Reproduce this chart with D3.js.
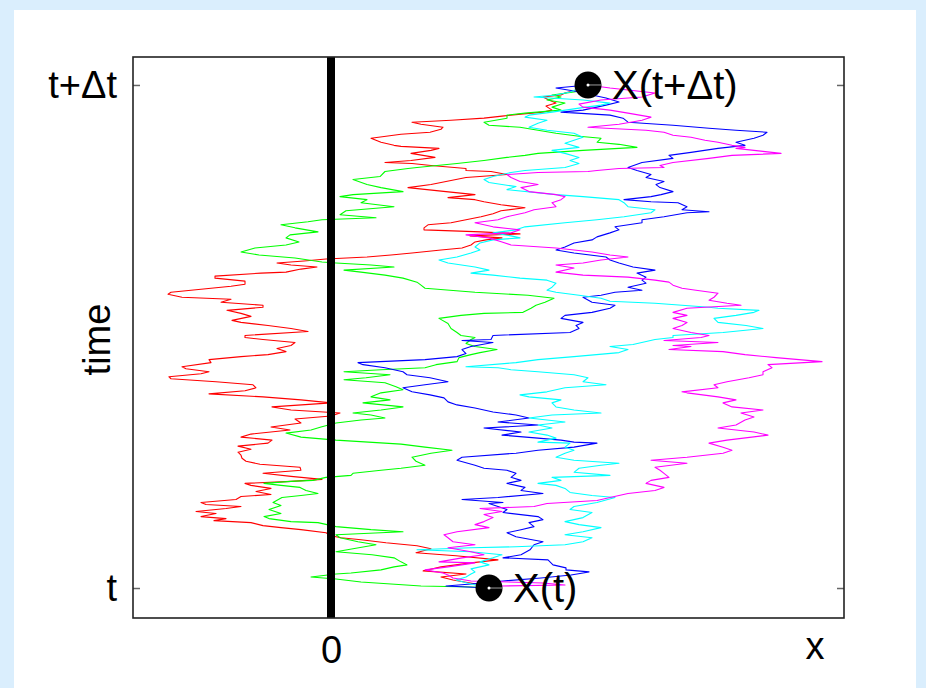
<!DOCTYPE html>
<html><head><meta charset="utf-8">
<script src="https://cdn.jsdelivr.net/npm/d3@7"></script>
<style>
html,body{margin:0;padding:0;background:#daeefd;}
svg{display:block;}
text{font-family:"Liberation Sans",Arial,sans-serif;fill:#000;}
</style></head>
<body><svg id="c" width="926" height="688"></svg>
<script>
// time in steps (0 = t, 500 = t+Δt), x in space units
const timeTicks = [0, 500];
const timeTickLabels = ["t", "t+\u0394t"];
const xTicks = [0];
const xTickLabels = ["0"];
const startPoint = [0, 1.58];   // X(t)
const endPoint = [500, 2.57];   // X(t+Δt)
const pointLabels = ["X(t)", "X(t+\u0394t)"];

const red = [[0,1.58],[4,1.45],[8,1.22],[11,1.10],[14,1.35],[17,0.92],[21,1.10],[25,1.40],[28,1.67],[32,1.25],[35,0.85],[39,1.00],[42,0.86],[45,0.55],[48,0.30],[50,0.10],[52,0.00],[55,-0.05],[58,-0.30],[60,-0.50],[62,-0.68],[65,-0.80],[67,-1.17],[69,-1.05],[71,-1.30],[74,-1.15],[76,-1.35],[79,-1.05],[81,-0.90],[83,-1.25],[85,-1.30],[88,-0.95],[91,-0.90],[93,-0.60],[96,-0.75],[99,-0.60],[102,-0.80],[104,-0.86],[106,-0.40],[108,-0.09],[111,-0.40],[114,-0.68],[117,-0.30],[120,-0.31],[123,-0.71],[126,-0.85],[129,-0.89],[132,-0.90],[135,-0.93],[138,-0.80],[141,-0.93],[144,-0.63],[147,-0.59],[150,-0.90],[153,-0.80],[157,-0.41],[160,-0.60],[164,-0.30],[168,-0.36],[171,0.00],[174,0.09],[177,-0.40],[180,-0.59],[184,0.00],[187,-0.30],[190,-0.68],[193,-1.22],[196,-0.86],[199,-0.75],[202,-0.78],[205,-1.15],[208,-1.60],[210,-1.62],[213,-1.30],[215,-1.22],[218,-1.45],[220,-1.49],[224,-1.20],[227,-1.22],[230,-0.90],[232,-0.63],[235,-0.45],[238,-0.54],[241,-0.40],[244,-0.36],[247,-0.68],[249,-0.86],[251,-0.86],[255,-0.23],[258,-0.40],[261,-0.63],[264,-0.90],[266,-0.99],[270,-0.80],[273,-0.90],[276,-1.04],[279,-0.68],[281,-0.68],[284,-1.10],[287,-1.00],[289,-1.49],[292,-1.63],[294,-1.60],[297,-1.30],[300,-1.00],[302,-0.86],[305,-0.86],[308,-1.16],[310,-1.16],[313,-0.70],[314,-0.45],[317,-0.30],[319,-0.14],[321,-0.40],[323,-0.54],[325,-0.27],[327,-0.05],[329,0.36],[331,0.60],[333,0.81],[336,1.10],[338,1.31],[341,1.40],[344,1.44],[346,1.55],[348,1.71],[350,1.39],[352,1.89],[354,1.50],[356,0.93],[358,0.93],[361,0.97],[363,1.20],[366,1.35],[369,1.50],[372,1.62],[375,1.70],[378,1.94],[381,1.70],[384,1.53],[386,1.44],[388,1.17],[391,1.44],[394,1.15],[398,0.77],[401,1.00],[405,1.20],[408,1.35],[411,1.76],[414,1.60],[415,1.35],[417,1.35],[420,1.00],[422,0.81],[423,0.54],[425,0.80],[428,1.04],[432,0.80],[435,1.00],[437,1.08],[439,0.70],[440,0.63],[443,0.50],[445,0.45],[447,0.40],[449,0.55],[451,0.70],[453,0.99],[456,1.10],[458,1.12],[461,0.90],[463,0.81],[465,1.20],[467,1.53],[469,1.71],[471,1.90],[473,2.12],[475,2.21],[479,2.15],[482,2.25],[485,2.18],[488,2.12],[490,2.30],[492,2.34],[495,2.45],[497,2.57],[500,2.57]];

const green = [[0,1.58],[1,1.40],[2,0.90],[4,0.60],[6,0.30],[9,0.05],[11,-0.20],[14,0.05],[15,0.20],[18,0.50],[21,0.63],[23,0.76],[26,0.70],[30,0.63],[33,0.41],[36,0.05],[39,0.22],[43,0.45],[46,0.27],[50,0.09],[53,0.05],[56,0.72],[58,0.40],[61,0.05],[65,-0.13],[66,-0.40],[69,-0.62],[71,-0.67],[74,-0.50],[78,-0.62],[82,-0.50],[85,-0.58],[90,-0.49],[92,-0.30],[94,-0.13],[97,-0.25],[100,-0.31],[102,-0.50],[104,-0.67],[106,-0.40],[107,-0.18],[110,-0.05],[112,0.20],[114,0.22],[117,0.50],[119,0.70],[122,0.94],[126,0.85],[130,0.81],[134,1.00],[137,1.21],[140,0.94],[143,0.70],[147,0.05],[150,-0.30],[154,-0.45],[157,-0.20],[160,-0.10],[164,0.05],[167,0.30],[169,0.54],[172,0.40],[174,0.22],[177,0.50],[180,0.72],[184,0.32],[187,0.59],[190,0.40],[194,0.50],[197,0.72],[200,0.65],[204,0.54],[207,0.13],[209,0.35],[212,0.59],[215,0.13],[217,0.50],[219,0.94],[222,1.05],[225,1.26],[229,1.28],[232,1.40],[234,1.49],[237,1.66],[240,1.44],[243,1.35],[247,1.40],[249,1.44],[251,1.30],[254,1.26],[258,1.20],[263,1.17],[268,1.08],[271,1.30],[273,1.53],[274,1.92],[278,2.00],[281,2.05],[284,2.14],[288,2.23],[291,1.97],[294,1.44],[298,0.94],[301,0.90],[304,0.86],[308,0.72],[311,0.54],[314,0.30],[316,0.13],[319,0.63],[321,0.40],[323,0.05],[324,-0.09],[328,-0.36],[331,-0.72],[334,-0.90],[338,-0.76],[341,-0.45],[344,-0.32],[348,-0.45],[351,-0.41],[354,-0.13],[358,-0.36],[361,-0.50],[364,-0.23],[366,-0.09],[368,0.45],[371,0.09],[375,0.15],[379,0.63],[383,0.30],[386,0.36],[389,0.09],[391,0.22],[394,0.72],[398,0.50],[401,0.36],[406,0.22],[409,0.49],[414,0.54],[417,0.77],[418,0.86],[422,1.26],[425,1.53],[428,1.76],[430,1.94],[432,2.07],[435,2.52],[438,3.06],[441,2.88],[443,2.66],[447,2.70],[449,2.48],[452,2.25],[455,2.07],[458,1.89],[460,1.58],[463,1.53],[467,1.76],[470,1.76],[472,1.94],[475,2.30],[478,2.21],[482,2.34],[485,2.16],[488,2.30],[490,2.21],[493,2.43],[497,2.65],[500,2.57]];

const blue = [[0,1.58],[2,1.15],[4,1.40],[7,1.72],[10,2.10],[13,2.40],[16,2.58],[18,2.35],[20,2.35],[23,2.22],[28,2.17],[30,1.72],[33,1.90],[38,1.99],[43,2.03],[46,2.12],[51,1.85],[55,1.76],[58,1.90],[61,2.03],[65,1.98],[68,2.12],[71,2.07],[75,1.72],[78,1.76],[81,1.67],[84,1.58],[85,1.72],[88,1.31],[90,1.67],[94,2.12],[97,1.90],[100,1.94],[104,1.76],[107,1.90],[110,1.80],[114,1.85],[117,1.76],[119,1.53],[122,1.44],[127,1.26],[130,1.31],[134,1.85],[137,2.07],[140,2.43],[144,2.66],[145,2.43],[147,2.30],[149,2.07],[152,1.71],[155,1.90],[159,1.53],[162,2.07],[165,1.67],[169,1.98],[172,1.85],[175,1.62],[179,1.44],[182,1.26],[185,1.17],[189,1.13],[192,0.99],[195,0.81],[199,0.72],[202,0.94],[205,1.17],[209,0.99],[212,0.76],[215,0.72],[219,0.54],[222,0.32],[224,0.27],[227,0.94],[230,1.26],[233,1.35],[237,1.31],[240,1.40],[244,1.62],[246,1.31],[247,1.60],[251,1.62],[254,2.39],[258,2.48],[261,2.45],[264,2.52],[268,2.30],[271,2.34],[274,2.61],[278,2.79],[281,2.84],[284,2.61],[289,2.52],[291,2.70],[294,2.84],[296,3.11],[299,2.97],[303,3.15],[306,3.11],[309,3.15],[313,3.06],[316,3.24],[319,3.02],[323,2.88],[326,2.79],[329,2.75],[333,2.43],[336,2.25],[339,2.34],[343,2.43],[346,2.61],[349,2.66],[353,2.79],[356,2.88],[359,2.84],[363,3.11],[366,3.11],[369,3.33],[373,3.56],[374,3.78],[376,3.51],[379,3.56],[383,3.47],[384,3.20],[386,2.93],[389,3.20],[391,3.30],[394,3.42],[398,3.29],[401,3.25],[404,3.33],[408,3.15],[411,3.20],[415,3.06],[418,2.97],[423,3.11],[427,3.42],[430,3.38],[433,3.60],[437,3.87],[440,4.14],[443,4.05],[447,4.23],[450,4.32],[453,4.36],[455,4.05],[457,3.78],[460,3.42],[463,2.97],[467,2.92],[470,2.79],[473,2.30],[475,2.52],[480,2.75],[483,2.88],[487,2.75],[490,2.61],[494,2.43],[497,2.25],[500,2.57]];

const cyan = [[0,1.58],[4,1.40],[8,1.25],[11,1.35],[14,1.40],[16,1.44],[19,1.40],[23,1.58],[26,1.49],[30,1.62],[33,1.71],[36,1.40],[38,0.86],[40,1.40],[41,1.85],[43,2.34],[46,2.52],[50,2.61],[53,2.34],[56,2.52],[60,2.70],[63,2.48],[66,2.34],[70,2.52],[75,2.61],[78,2.39],[81,2.43],[85,2.66],[90,2.84],[92,2.61],[95,2.39],[99,2.34],[102,2.25],[104,2.07],[107,2.30],[110,2.21],[112,2.79],[115,2.43],[119,2.48],[122,2.70],[124,2.88],[127,2.43],[130,2.25],[134,2.34],[137,2.43],[140,2.34],[144,2.39],[145,2.07],[149,2.25],[152,2.16],[155,1.98],[159,2.21],[162,2.07],[165,2.34],[169,1.98],[172,2.21],[174,2.70],[177,2.43],[180,2.25],[184,2.21],[187,2.30],[190,1.98],[192,1.89],[195,2.16],[199,2.34],[202,2.75],[205,2.52],[209,2.57],[212,2.43],[215,2.07],[217,1.80],[219,1.67],[220,1.35],[224,1.85],[227,2.07],[230,2.43],[234,2.88],[237,2.97],[240,2.79],[242,3.02],[247,3.24],[249,3.42],[251,3.42],[254,3.92],[258,4.32],[261,4.15],[264,3.87],[268,3.83],[271,4.05],[274,4.23],[276,4.28],[278,3.87],[279,3.78],[283,3.24],[285,2.79],[288,2.70],[291,2.48],[294,2.25],[296,2.16],[299,2.21],[303,2.25],[306,2.16],[308,1.89],[311,1.62],[313,1.40],[316,1.58],[319,1.44],[323,1.17],[326,1.08],[329,1.26],[333,1.40],[336,1.49],[339,1.44],[343,1.49],[346,1.62],[348,1.89],[350,1.80],[353,1.62],[356,1.85],[359,1.94],[363,2.34],[366,2.66],[369,2.93],[373,3.20],[376,3.24],[379,2.97],[383,2.93],[386,2.88],[389,2.52],[391,2.25],[396,1.76],[399,1.85],[403,1.58],[406,1.53],[409,1.62],[413,1.80],[415,1.94],[418,2.34],[422,2.48],[425,2.39],[428,2.48],[432,2.34],[435,2.21],[438,2.48],[442,2.34],[445,2.43],[448,2.52],[452,2.43],[455,2.16],[458,1.98],[462,2.07],[465,2.16],[468,1.94],[470,1.98],[473,2.21],[477,2.48],[480,2.70],[482,2.79],[485,2.52],[488,2.03],[490,2.25],[493,2.39],[500,2.57]];

const magenta = [[0,1.58],[2,1.71],[3,2.34],[5,2.12],[7,1.40],[10,1.22],[13,1.17],[15,1.12],[18,0.94],[21,1.17],[25,1.44],[26,1.08],[30,1.31],[33,1.53],[36,1.40],[40,1.17],[43,1.44],[46,1.22],[50,1.17],[53,1.13],[56,1.26],[60,1.58],[63,1.44],[66,1.53],[70,1.62],[73,1.53],[76,1.71],[79,1.49],[81,2.03],[84,2.16],[87,2.66],[90,2.79],[94,2.97],[97,3.24],[100,3.33],[104,3.15],[107,3.20],[110,3.38],[114,3.33],[117,3.29],[120,3.24],[124,3.56],[127,3.20],[130,3.56],[134,3.92],[137,4.01],[140,3.92],[144,3.78],[147,3.96],[152,4.37],[155,4.23],[159,3.87],[162,4.05],[167,4.14],[170,4.23],[174,4.10],[177,4.32],[180,4.01],[184,3.92],[187,4.05],[190,3.87],[194,3.56],[195,3.51],[199,3.87],[202,3.83],[205,3.96],[209,4.18],[212,4.32],[215,4.32],[219,4.41],[222,4.37],[225,4.91],[229,4.45],[232,4.14],[235,3.92],[237,3.38],[240,3.60],[241,3.42],[244,3.87],[246,3.33],[249,3.70],[251,3.78],[254,3.60],[258,3.42],[261,3.51],[264,3.56],[268,3.42],[271,3.56],[274,3.42],[278,3.56],[281,4.10],[283,3.96],[286,3.78],[289,3.83],[293,3.87],[296,3.65],[298,3.51],[301,3.42],[304,3.38],[306,3.24],[309,2.97],[311,2.52],[314,2.25],[318,2.43],[321,2.25],[323,2.52],[326,2.70],[329,2.97],[331,2.79],[334,2.61],[338,2.25],[341,1.80],[344,1.71],[348,1.58],[351,1.35],[353,1.80],[356,1.89],[359,1.62],[363,1.44],[366,1.67],[369,1.76],[373,1.94],[376,2.03],[379,2.25],[383,2.21],[386,2.30],[389,2.34],[391,2.25],[394,1.98],[398,1.90],[401,2.07],[404,1.89],[408,1.80],[411,1.76],[413,2.07],[414,2.57],[415,2.66],[417,2.88],[418,3.33],[420,3.29],[423,3.42],[427,3.78],[430,4.01],[432,4.50],[434,4.32],[437,4.05],[438,4.14],[440,4.01],[443,3.87],[445,3.74],[448,3.60],[450,3.42],[453,3.33],[455,3.15],[457,2.75],[458,2.57],[461,2.88],[465,3.11],[468,3.20],[472,2.97],[475,2.79],[478,2.52],[481,2.48],[485,2.70],[488,3.11],[492,3.24],[494,3.06],[497,2.79],[500,2.57]];

const seriesList = [
  {name:"red", color:"#ff0000", data:red},
  {name:"green", color:"#00ff00", data:green},
  {name:"blue", color:"#0000ff", data:blue},
  {name:"cyan", color:"#00ffff", data:cyan},
  {name:"magenta", color:"#ff00ff", data:magenta}
];

const svg = d3.select("#c");
const plot = {left:133, right:844, top:57, bottom:618};

// white panel
svg.append("rect").attr("x",14).attr("y",10).attr("width",902).attr("height",678).attr("fill","#fff");

const x = d3.scaleLinear().domain([-1.98, 5.13]).range([plot.left, plot.right]);
const y = d3.scaleLinear().domain([-29.8, 527.8]).range([plot.bottom, plot.top]);

const g = svg.append("g");
g.append("rect").attr("x",plot.left).attr("y",plot.top)
  .attr("width",plot.right-plot.left).attr("height",plot.bottom-plot.top).attr("fill","#fff");

const line = d3.line().x(d=>x(d[1])).y(d=>y(d[0]));
g.selectAll("path.walk").data(seriesList).join("path")
  .attr("class","walk").attr("d",d=>line(d.data))
  .attr("fill","none").attr("stroke",d=>d.color).attr("stroke-width",1.1)
  .attr("stroke-linejoin","round");

// thick zero line
g.append("line").attr("x1",x(0)).attr("x2",x(0)).attr("y1",plot.top).attr("y2",plot.bottom)
  .attr("stroke","#000").attr("stroke-width",8);

// axes
const fs = 38;
const yAxisL = d3.axisLeft(y).tickValues(timeTicks).tickFormat((d,i)=>timeTickLabels[i])
  .tickSizeInner(-7).tickSizeOuter(0).tickPadding(16);
const gl = svg.append("g").attr("transform",`translate(${plot.left},0)`).call(yAxisL);
const yAxisR = d3.axisRight(y).tickValues(timeTicks).tickFormat("").tickSizeInner(-7).tickSizeOuter(0);
const gr = svg.append("g").attr("transform",`translate(${plot.right},0)`).call(yAxisR);
const xAxis = d3.axisBottom(x).tickValues(xTicks).tickFormat((d,i)=>xTickLabels[i])
  .tickSizeInner(0).tickSizeOuter(0).tickPadding(18);
const gb = svg.append("g").attr("transform",`translate(0,${plot.bottom})`).call(xAxis);
[gl,gr,gb].forEach(a=>{
  a.select(".domain").remove();
  a.selectAll(".tick line").attr("stroke","#666").attr("stroke-width",1.5);
  a.selectAll("text").attr("font-size",fs).attr("font-family","Liberation Sans, Arial, sans-serif").attr("fill","#000");
});

// frame
svg.append("rect").attr("x",plot.left).attr("y",plot.top)
  .attr("width",plot.right-plot.left).attr("height",plot.bottom-plot.top)
  .attr("fill","none").attr("stroke","#222").attr("stroke-width",1.6);

// axis labels
svg.append("text").attr("transform",`translate(110,${(plot.top+plot.bottom)/2+2}) rotate(-90)`)
  .attr("text-anchor","middle").attr("font-size",fs).text("time");
svg.append("text").attr("x",plot.right-29).attr("y",659).attr("text-anchor","middle")
  .attr("font-size",fs).text("x");

// end points
const pts = [startPoint, endPoint];
const pg = svg.append("g");
pts.forEach((p,i)=>{
  const cx = x(p[1]), cy = y(p[0]);
  pg.append("circle").attr("cx",cx).attr("cy",cy).attr("r",13.5).attr("fill","#000");
  pg.append("line").attr("x1",cx).attr("x2",cx+13).attr("y1",cy).attr("y2",cy)
    .attr("stroke","#999").attr("stroke-width",1);
  pg.append("circle").attr("cx",cx).attr("cy",cy).attr("r",1.5).attr("fill","#fff");
  pg.append("text").attr("x",cx+24).attr("y",cy).attr("dy","0.36em")
    .attr("font-size",40).text(pointLabels[i]);
});
</script></body></html>
